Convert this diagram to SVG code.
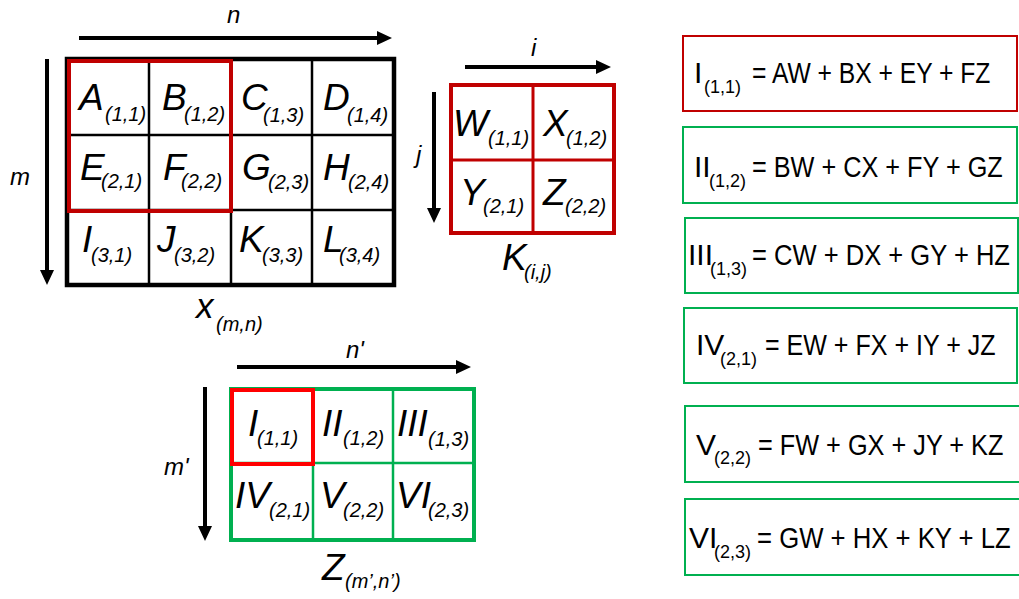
<svg xmlns="http://www.w3.org/2000/svg" width="1019" height="599" viewBox="0 0 1019 599">
<style>
text{font-family:"Liberation Sans",Arial,sans-serif;fill:#000}
.big{font-size:37px;font-style:italic}
.sub{font-size:20px;font-style:italic}
.lbl{font-size:24px;font-style:italic}
.eq{font-size:30px}
.eqs{font-size:18px}
.ax{stroke:#000;stroke-width:4;fill:none;marker-end:url(#ah)}
.blk{fill:none;stroke:#000}
.dred{fill:none;stroke:#C00000}
.grn{fill:none;stroke:#00B050}
.red{fill:none;stroke:#FF0000}
</style>
<defs>
<marker id="ah" viewBox="0 0 15 14" refX="5" refY="7" markerWidth="15" markerHeight="14" markerUnits="userSpaceOnUse" orient="auto">
<path d="M0,0 L15,7 L0,14 Z" fill="#000"/>
</marker>
</defs>
<rect width="1019" height="599" fill="#fff"/>

<g id="connectors">
<line class="ax" x1="79" y1="38" x2="382" y2="38"/>
<line class="ax" x1="47" y1="59" x2="47" y2="275"/>
<line class="ax" x1="465" y1="67" x2="601" y2="67"/>
<line class="ax" x1="434" y1="92" x2="434" y2="213"/>
<line class="ax" x1="237" y1="367" x2="461" y2="367"/>
<line class="ax" x1="205" y1="387" x2="205" y2="531"/>
</g>

<g id="matrix-x">
<line class="blk" stroke-width="2.5" x1="149" y1="59" x2="149" y2="285"/>
<line class="blk" stroke-width="2.5" x1="231" y1="59" x2="231" y2="285"/>
<line class="blk" stroke-width="2.5" x1="312" y1="59" x2="312" y2="285"/>
<line class="blk" stroke-width="2.5" x1="67" y1="135" x2="394" y2="135"/>
<line class="blk" stroke-width="2.5" x1="67" y1="210" x2="394" y2="210"/>
<rect class="blk" stroke-width="4.5" x="67" y="59" width="327" height="226"/>
<rect class="dred" stroke-width="4" x="69" y="61" width="162" height="150"/>
<text class="big" x="79" y="110">A</text><text class="sub" x="105" y="121">(1,1)</text>
<text class="big" x="162" y="110">B</text><text class="sub" x="184" y="121">(1,2)</text>
<text class="big" x="241" y="110">C</text><text class="sub" x="263" y="122">(1,3)</text>
<text class="big" x="323" y="110">D</text><text class="sub" x="347" y="122">(1,4)</text>
<text class="big" x="80" y="180">E</text><text class="sub" x="101" y="188">(2,1)</text>
<text class="big" x="163" y="180">F</text><text class="sub" x="181" y="188">(2,2)</text>
<text class="big" x="242" y="180">G</text><text class="sub" x="268" y="189">(2,3)</text>
<text class="big" x="323" y="180">H</text><text class="sub" x="348" y="189">(2,4)</text>
<text class="big" x="82" y="252">I</text><text class="sub" x="91" y="262">(3,1)</text>
<text class="big" x="157" y="252">J</text><text class="sub" x="174" y="262">(3,2)</text>
<text class="big" x="239" y="252">K</text><text class="sub" x="262" y="262">(3,3)</text>
<text class="big" x="323" y="252">L</text><text class="sub" x="339" y="262">(3,4)</text>
<text class="lbl" x="227" y="23">n</text>
<text class="lbl" x="10" y="185">m</text>
<text x="196" y="318" style="font-size:35px;font-style:italic">x</text><text class="sub" x="216" y="331">(m,n)</text>
</g>

<g id="kernel-k">
<line class="dred" stroke-width="3" x1="533" y1="85" x2="533" y2="233"/>
<line class="dred" stroke-width="3" x1="451" y1="160" x2="614" y2="160"/>
<rect class="dred" stroke-width="4" x="451" y="85" width="163" height="148"/>
<text class="big" x="453" y="136">W</text><text class="sub" x="488" y="145">(1,1)</text>
<text class="big" x="543" y="136">X</text><text class="sub" x="566" y="145">(1,2)</text>
<text class="big" x="460" y="205">Y</text><text class="sub" x="483" y="213">(2,1)</text>
<text class="big" x="543" y="205">Z</text><text class="sub" x="565" y="213">(2,2)</text>
<text class="lbl" x="531" y="56">i</text>
<text class="lbl" x="416" y="163">j</text>
<text class="big" x="502" y="270">K</text><text class="sub" x="524" y="279">(i,j)</text>
</g>

<g id="matrix-z">
<line class="grn" stroke-width="2.5" x1="313" y1="387" x2="313" y2="541"/>
<line class="grn" stroke-width="2.5" x1="393" y1="387" x2="393" y2="541"/>
<line class="grn" stroke-width="2.5" x1="229" y1="463" x2="476" y2="463"/>
<rect class="grn" stroke-width="4" x="231" y="389" width="243" height="151"/>
<rect class="red" stroke-width="4" x="232" y="390" width="81" height="74"/>
<text class="big" x="248" y="436">I</text><text class="sub" x="257" y="445">(1,1)</text>
<text class="big" x="322" y="436">II</text><text class="sub" x="343" y="445">(1,2)</text>
<text class="big" x="397" y="436">III</text><text class="sub" x="428" y="446">(1,3)</text>
<text class="big" x="235" y="508">IV</text><text class="sub" x="269" y="517">(2,1)</text>
<text class="big" x="320" y="508">V</text><text class="sub" x="343" y="517">(2,2)</text>
<text class="big" x="396" y="508">VI</text><text class="sub" x="428" y="517">(2,3)</text>
<text class="lbl" x="346" y="358">n'</text>
<text class="lbl" x="164" y="475">m'</text>
<text class="big" x="322" y="580">Z</text><text class="sub" x="345" y="588">(m’,n’)</text>
</g>

<g id="eq1">
<rect class="dred" stroke-width="2" x="683" y="36" width="334" height="75"/>
<text class="eq" x="694" y="83">I</text><text class="eqs" x="704" y="93">(1,1)</text>
<text class="eq" transform="translate(752,83) scale(0.822,1)">= AW + BX + EY + FZ</text>
</g>
<g id="eq2">
<rect class="grn" stroke-width="2" x="683" y="127" width="334" height="76"/>
<text class="eq" x="694" y="177">II</text><text class="eqs" x="709" y="187">(1,2)</text>
<text class="eq" transform="translate(752,177) scale(0.842,1)">= BW + CX + FY + GZ</text>
</g>
<g id="eq3">
<rect class="grn" stroke-width="2" x="685" y="218" width="333" height="75"/>
<text class="eq" x="688" y="265">III</text><text class="eqs" x="710" y="275">(1,3)</text>
<text class="eq" transform="translate(752,265) scale(0.852,1)">= CW + DX + GY + HZ</text>
</g>
<g id="eq4">
<rect class="grn" stroke-width="2" x="684" y="308" width="333" height="75"/>
<text class="eq" x="696" y="355">IV</text><text class="eqs" x="720" y="365">(2,1)</text>
<text class="eq" transform="translate(765,355) scale(0.835,1)">= EW + FX + IY + JZ</text>
</g>
<g id="eq5">
<rect class="grn" stroke-width="2" x="685" y="406" width="336" height="76"/>
<text class="eq" x="696" y="455">V</text><text class="eqs" x="714" y="464">(2,2)</text>
<text class="eq" transform="translate(758,455) scale(0.843,1)">= FW + GX + JY + KZ</text>
</g>
<g id="eq6">
<rect class="grn" stroke-width="2" x="685" y="499" width="336" height="76"/>
<text class="eq" x="689" y="548">VI</text><text class="eqs" x="714" y="558">(2,3)</text>
<text class="eq" transform="translate(757,548) scale(0.857,1)">= GW + HX + KY + LZ</text>
</g>
</svg>
